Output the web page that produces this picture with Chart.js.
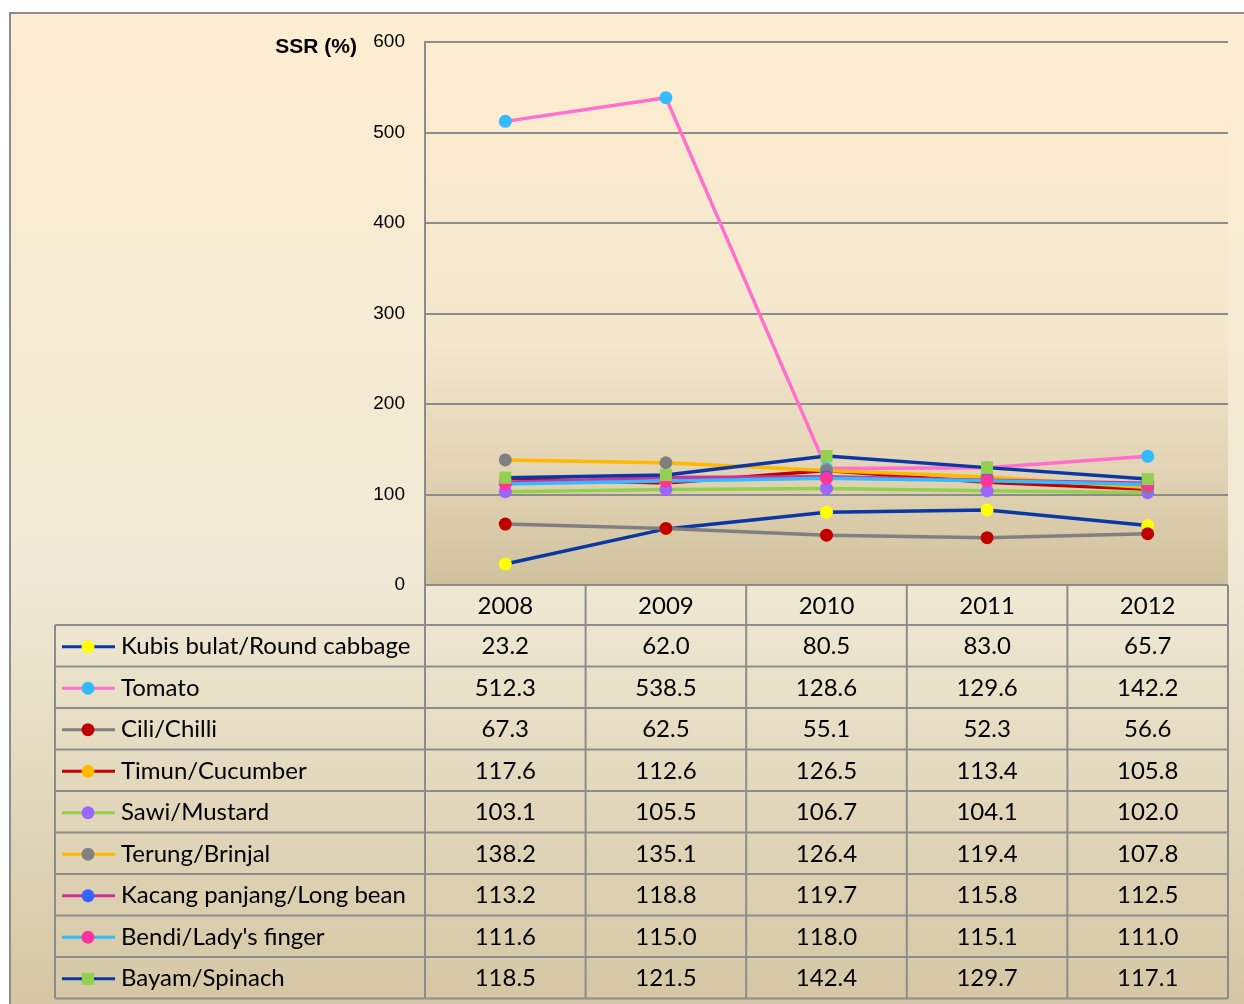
<!DOCTYPE html>
<html>
<head>
<meta charset="utf-8">
<script src="https://cdn.jsdelivr.net/npm/chart.js@4"></script>
<style>
  html, body { margin: 0; padding: 0; background: #fff; overflow: hidden; }
  canvas { display: block; }
</style>
</head>
<body>
<canvas id="c" width="1244" height="1004"></canvas>
<script>
const YEARS = ["2008", "2009", "2010", "2011", "2012"];
const Y_TICKS = [0, 100, 200, 300, 400, 500, 600];

const NAMES = [
  "Kubis bulat/Round cabbage", "Tomato", "Cili/Chilli", "Timun/Cucumber", "Sawi/Mustard",
  "Terung/Brinjal", "Kacang panjang/Long bean", "Bendi/Lady's finger", "Bayam/Spinach",
];
const kubis = [23.2, 62.0, 80.5, 83.0, 65.7];
const tomato = [512.3, 538.5, 128.6, 129.6, 142.2];
const cili = [67.3, 62.5, 55.1, 52.3, 56.6];
const timun = [117.6, 112.6, 126.5, 113.4, 105.8];
const sawi = [103.1, 105.5, 106.7, 104.1, 102.0];
const terung = [138.2, 135.1, 126.4, 119.4, 107.8];
const kacang = [113.2, 118.8, 119.7, 115.8, 112.5];
const bendi = [111.6, 115.0, 118.0, 115.1, 111.0];
const bayam = [118.5, 121.5, 142.4, 129.7, 117.1];
const SERIES = [kubis, tomato, cili, timun, sawi, terung, kacang, bendi, bayam];

const LINE_COLORS = ["#0a37a3", "#ff6fcf", "#808080", "#c00000", "#92d050", "#ffb900", "#cc3399", "#33bbff", "#0a37a3"];
const MARK_COLORS = ["#ffff00", "#33bbff", "#c00000", "#ffb900", "#9966ff", "#808080", "#3366ff", "#ff3399", "#92d050"];
const MARK_STYLES = ["circle", "circle", "circle", "circle", "circle", "circle", "circle", "circle", "rect"];

const GRID = "#8c8c8c";
const TABLE_FONT = "24px Lato, 'Open Sans', sans-serif";

const backdrop = {
  id: "backdrop",
  beforeDraw(chart) {
    const { ctx, chartArea: a } = chart;
    ctx.save();
    ctx.fillStyle = "#fff";
    ctx.fillRect(0, 0, chart.width, chart.height);
    const g = ctx.createLinearGradient(0, 12, 0, chart.height);
    g.addColorStop(0, "#fdedd1");
    g.addColorStop(0.57, "#f0e9d5");
    g.addColorStop(1, "#d5c7a4");
    ctx.fillStyle = g;
    ctx.fillRect(9, 12, chart.width, chart.height);
    ctx.strokeStyle = GRID;
    ctx.lineWidth = 2;
    ctx.beginPath();
    ctx.moveTo(10, chart.height);
    ctx.lineTo(10, 13);
    ctx.lineTo(chart.width, 13);
    ctx.stroke();
    const p = ctx.createLinearGradient(0, a.top, 0, a.bottom);
    p.addColorStop(0, "#fdedd1");
    p.addColorStop(0.55, "#f4e7cc");
    p.addColorStop(1, "#d1c29e");
    ctx.fillStyle = p;
    ctx.fillRect(a.left, a.top, a.right - a.left, a.bottom - a.top);
    ctx.restore();
  },
  afterDraw(chart) {
    const { ctx, chartArea: a } = chart;
    const xs = chart.scales.x;
    const n = YEARS.length;
    const colW = (xs.right - xs.left) / n;
    const top = a.bottom, headH = 40, rowH = 41.5, legL = 55;
    const bottom = top + headH + rowH * NAMES.length;
    ctx.save();

    // title
    ctx.fillStyle = "#000";
    ctx.font = "bold 21px 'Liberation Sans', Arial, sans-serif";
    ctx.textAlign = "right";
    ctx.textBaseline = "middle";
    ctx.fillText("SSR (%)", 357, 47);

    // grid of the data table
    ctx.strokeStyle = GRID;
    ctx.lineWidth = 2;
    ctx.beginPath();
    for (let k = 0; k <= n; k++) {
      const x = xs.left + k * colW;
      ctx.moveTo(x, top);
      ctx.lineTo(x, bottom);
    }
    ctx.moveTo(legL, top + headH);
    ctx.lineTo(legL, bottom);
    ctx.moveTo(xs.left, top);
    ctx.lineTo(xs.right, top);
    for (let r = 0; r <= NAMES.length; r++) {
      const y = top + headH + r * rowH;
      ctx.moveTo(legL, y);
      ctx.lineTo(xs.right, y);
    }
    ctx.stroke();

    ctx.font = TABLE_FONT;
    ctx.fillStyle = "#000";
    ctx.textAlign = "center";
    YEARS.forEach((yr, i) => ctx.fillText(yr, xs.getPixelForValue(i), top + headH / 2 + 1));

    NAMES.forEach((name, r) => {
      const cy = top + headH + r * rowH + rowH / 2 + 1;
      // legend key
      ctx.strokeStyle = LINE_COLORS[r];
      ctx.lineWidth = 3;
      ctx.beginPath();
      ctx.moveTo(62, cy);
      ctx.lineTo(115, cy);
      ctx.stroke();
      ctx.fillStyle = MARK_COLORS[r];
      ctx.beginPath();
      if (MARK_STYLES[r] === "rect") ctx.rect(82, cy - 6, 12, 12);
      else ctx.arc(88, cy, 6.5, 0, Math.PI * 2);
      ctx.fill();
      ctx.fillStyle = "#000";
      ctx.textAlign = "left";
      ctx.fillText(name, 121, cy);
      ctx.textAlign = "center";
      SERIES[r].forEach((v, i) => ctx.fillText(v.toFixed(1), xs.getPixelForValue(i), cy));
    });
    ctx.restore();
  },
};

new Chart(document.getElementById("c"), {
  type: "line",
  data: {
    labels: YEARS,
    datasets: SERIES.map((vals, i) => ({
      label: NAMES[i],
      data: vals,
      borderColor: LINE_COLORS[i],
      backgroundColor: MARK_COLORS[i],
      pointBackgroundColor: MARK_COLORS[i],
      pointBorderColor: MARK_COLORS[i],
      pointBorderWidth: 0,
      pointStyle: MARK_STYLES[i],
      pointRadius: MARK_STYLES[i] === "rect" ? 8.5 : 6.5,
      borderWidth: 3.5,
      tension: 0,
      fill: false,
      order: SERIES.length - i,
    })),
  },
  options: {
    responsive: false,
    animation: false,
    layout: { padding: { top: 42, right: 16, bottom: 419, left: 0 } },
    plugins: { legend: { display: false }, tooltip: { enabled: false } },
    scales: {
      x: { type: "category", offset: true, display: false },
      y: {
        min: 0,
        max: 600,
        afterBuildTicks: s => { s.ticks = Y_TICKS.map(v => ({ value: v })); },
        afterFit: s => { s.width = 425; },
        ticks: { color: "#000", padding: 20, font: { family: "'Liberation Sans', Arial, sans-serif", size: 19 } },
        grid: { color: GRID, lineWidth: 2, drawTicks: false },
        border: { color: GRID, width: 2 },
      },
    },
  },
  plugins: [backdrop],
});
</script>
</body>
</html>
